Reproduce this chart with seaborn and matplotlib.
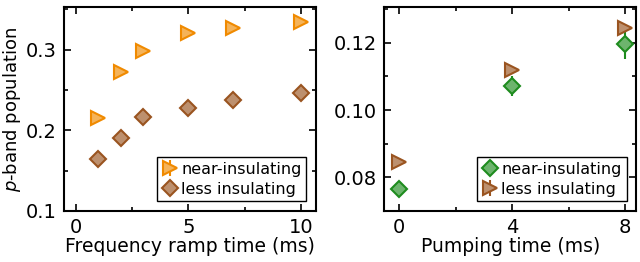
import numpy as np
import matplotlib
matplotlib.use("Agg")
import matplotlib.pyplot as plt
import seaborn as sns
import matplotlib.ticker as ticker

# ---- data ----
ramp_time = [1, 2, 3, 5, 7, 10]
ramp_near = [0.2157, 0.273, 0.298, 0.321, 0.327, 0.335]
ramp_near_err = [0.002, 0.002, 0.002, 0.002, 0.002, 0.002]
ramp_less = [0.164, 0.190, 0.216, 0.228, 0.2375, 0.246]
ramp_less_err = [0.002, 0.002, 0.002, 0.002, 0.002, 0.002]

pump_time = [0, 4, 8]
pump_near = [0.0765, 0.1072, 0.1195]
pump_near_err = [0.001, 0.003, 0.0044]
pump_less = [0.0846, 0.1119, 0.1244]
pump_less_err = [0.001, 0.001, 0.001]

orange = "#f08a00"
brown = "#9a5420"
green = "#1e8c1e"

sns.set_theme(style="ticks")
plt.rcParams["font.family"] = ["DejaVu Sans"]
plt.rcParams["mathtext.fontset"] = "dejavusans"
plt.rcParams["text.color"] = "black"
plt.rcParams["axes.labelcolor"] = "black"

fig, (ax1, ax2) = plt.subplots(1, 2, figsize=(6.4, 2.62), dpi=100)
plt.subplots_adjust(left=0.1, right=0.994, top=0.973, bottom=0.195, wspace=0.27)

fs = 14


def lighten(color, amount=0.35):
    r, g, b = matplotlib.colors.to_rgb(color)
    return (r + (1 - r) * amount, g + (1 - g) * amount, b + (1 - b) * amount)


def draw(ax, x, y, err, color, marker, label, ms):
    ax.errorbar(x, y, yerr=err, fmt=marker, color=color, ecolor=color,
                mfc=lighten(color), mec=color,
                mew=1.5, ms=ms, elinewidth=1.5, capsize=0, label=label,
                linestyle="none")


draw(ax1, ramp_time, ramp_near, ramp_near_err, orange, ">", "near-insulating", 10)
draw(ax1, ramp_time, ramp_less, ramp_less_err, brown, "D", "less insulating", 8.5)
draw(ax2, pump_time, pump_near, pump_near_err, green, "D", "near-insulating", 8.5)
draw(ax2, pump_time, pump_less, pump_less_err, brown, ">", "less insulating", 10)

ax1.set_xlim(-0.53, 10.67)
ax1.set_ylim(0.1, 0.353)
ax1.xaxis.set_major_locator(ticker.MultipleLocator(5))
ax1.xaxis.set_minor_locator(ticker.MultipleLocator(2.5))
ax1.yaxis.set_major_locator(ticker.MultipleLocator(0.1))
ax1.yaxis.set_minor_locator(ticker.MultipleLocator(0.05))
ax1.yaxis.set_major_formatter(ticker.FormatStrFormatter("%.1f"))
ax1.set_xlabel("Frequency ramp time (ms)", fontsize=13.5, labelpad=0)
ax1.set_ylabel("$p$-band population", fontsize=13, labelpad=2)

ax2.set_xlim(-0.53, 8.39)
ax2.set_ylim(0.07, 0.1306)
ax2.xaxis.set_major_locator(ticker.MultipleLocator(4))
ax2.xaxis.set_minor_locator(ticker.MultipleLocator(2))
ax2.yaxis.set_major_locator(ticker.MultipleLocator(0.02))
ax2.yaxis.set_minor_locator(ticker.MultipleLocator(0.01))
ax2.yaxis.set_major_formatter(ticker.FormatStrFormatter("%.2f"))
ax2.set_xlabel("Pumping time (ms)", fontsize=13.5, labelpad=0)

for ax in (ax1, ax2):
    for s in ax.spines.values():
        s.set_linewidth(1.5)
        s.set_color("black")
    ax.tick_params(which="both", direction="in", top=True, right=True,
                   width=1.2, colors="black", labelsize=fs)
    ax.tick_params(which="major", length=5, pad=5)
    ax.tick_params(which="minor", length=3)
    leg = ax.legend(loc="lower right", fontsize=11.5, frameon=True,
                    fancybox=False, edgecolor="black", handletextpad=0.2,
                    handlelength=1.0, borderpad=0.3, labelspacing=0.3,
                    borderaxespad=0.6)
    leg.get_frame().set_linewidth(1.0)
    leg.get_frame().set_alpha(1)

fig.savefig("out.png", dpi=100)
